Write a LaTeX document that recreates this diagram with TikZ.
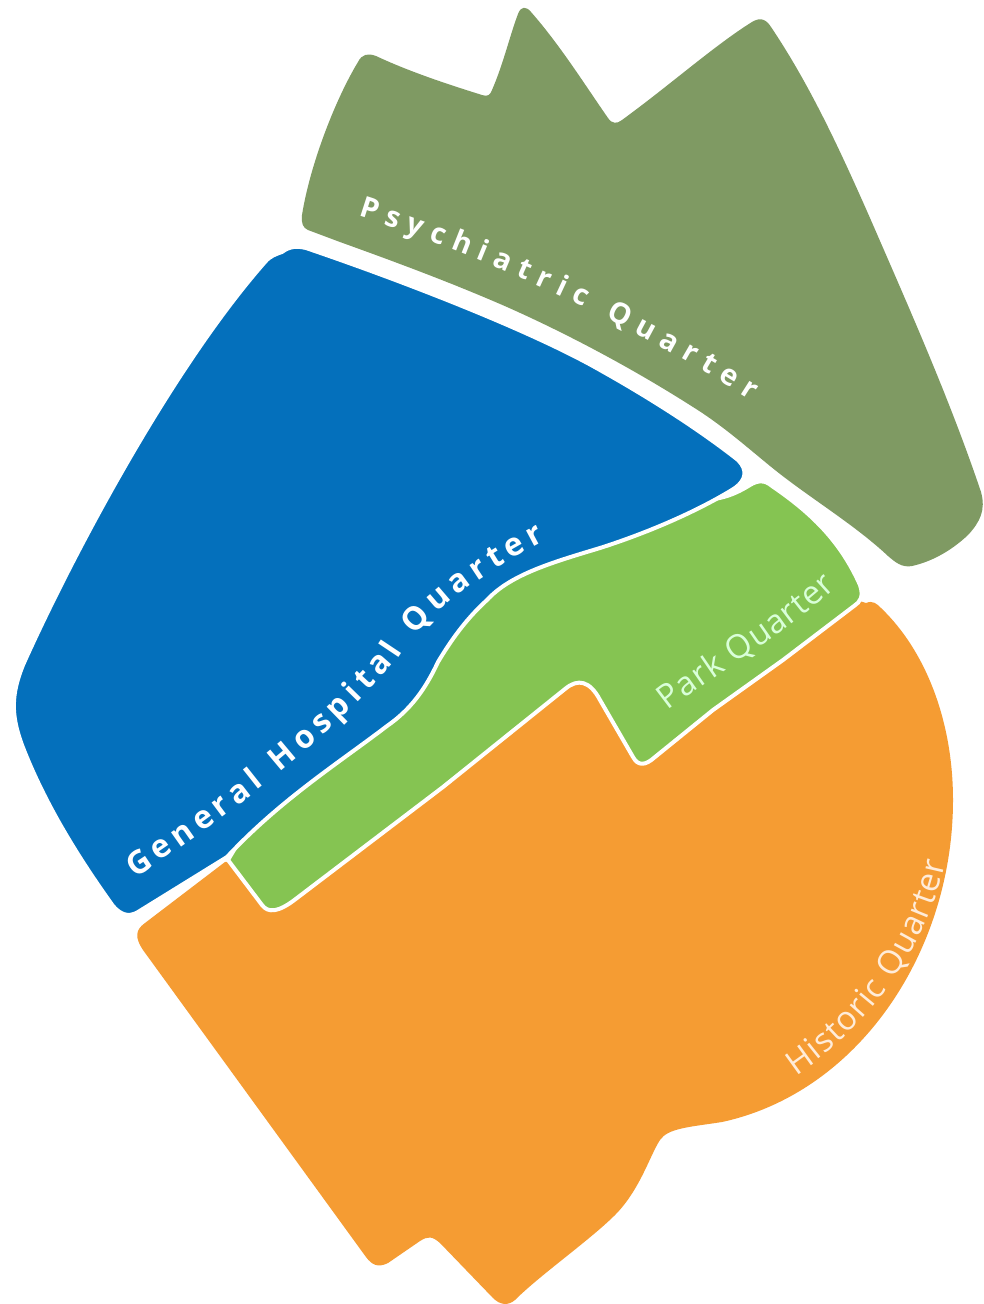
\documentclass[tikz,border=0pt]{standalone}
\usepackage{fontspec}
\usetikzlibrary{decorations.text}
\setmainfont{Open Sans}
\definecolor{olive}{HTML}{7F9A63}
\definecolor{hospblue}{HTML}{0470BC}
\definecolor{parkgreen}{HTML}{85C452}
\definecolor{histor}{HTML}{F59C33}
\newcommand{\psylab}{\bfseries\fontsize{29}{29}\selectfont}
\newcommand{\genlab}{\bfseries\fontsize{32}{32}\selectfont}
\newcommand{\thinlab}{\fontsize{33}{33}\selectfont}
\tikzset{
  quarter/.style={fill=#1,draw=white,line width=4pt,line join=round},
  curvelab/.style={decorate,decoration={text along path,text color=#1,text align={fit to path}}}
}
\begin{document}
\begin{tikzpicture}[x=1pt,y=-1pt]
\useasboundingbox (0,0) rectangle (984,1304);
\fill[white] (0,0) rectangle (984,1304);
% Psychiatric Quarter
\path[fill=olive] (302,215) .. controls (310,165) and (335,100) .. (358,62)
  .. controls (362,54) and (368,53) .. (376,56)
  .. controls (410,72) and (450,85) .. (482,95)
  .. controls (488,97) and (490,95) .. (492,90)
  .. controls (503,65) and (510,35) .. (518,14)
  .. controls (521,6) and (526,6) .. (531,12)
  .. controls (560,45) and (585,85) .. (608,118)
  .. controls (612,124) and (617,124) .. (622,120)
  .. controls (670,85) and (715,45) .. (752,22)
  .. controls (760,17) and (766,19) .. (771,27)
  .. controls (810,85) and (840,150) .. (870,218)
  .. controls (910,310) and (950,400) .. (981,492)
  .. controls (986,510) and (980,522) .. (968,535)
  .. controls (950,552) and (930,562) .. (912,566)
  .. controls (902,568) and (895,562) .. (888,556)
  .. controls (855,525) and (810,498) .. (775,470)
  .. controls (750,450) and (725,427) .. (693,407)
  .. controls (635,370) and (570,335) .. (507,307)
  .. controls (450,282) and (390,260) .. (340,242)
  -- (308,230) .. controls (303,228) and (301,223) .. (302,215) -- cycle;
% Historic Quarter
\path[fill=histor] (225,862) -- (280,860) -- (560,640) -- (650,700) -- (850,598) -- (866,603)
  .. controls (873,600) and (877,604) .. (881,608)
  .. controls (925,650) and (953,720) .. (953,800)
  .. controls (953,950) and (860,1092) .. (722,1122)
  .. controls (690,1127) and (668,1128) .. (660,1140)
  .. controls (650,1155) and (640,1190) .. (615,1215)
  .. controls (590,1240) and (540,1275) .. (515,1300)
  .. controls (508,1306) and (500,1305) .. (493,1298)
  -- (440,1243)
  .. controls (432,1236) and (428,1236) .. (420,1241)
  -- (388,1263)
  .. controls (378,1268) and (372,1265) .. (366,1257)
  -- (143,950)
  .. controls (135,938) and (135,930) .. (145,923) -- cycle;
% Park Quarter
\path[quarter=parkgreen] (700,500) .. controls (725,500) and (740,491) .. (750,485)
  .. controls (758,480) and (765,480) .. (772,486)
  .. controls (810,512) and (840,540) .. (860,585)
  .. controls (864,597) and (860,602) .. (854,606)
  -- (783,660) -- (713,710) -- (655,757)
  .. controls (645,766) and (638,766) .. (633,757)
  -- (600,700)
  .. controls (590,681) and (578,678) .. (565,689)
  -- (443,787) -- (297,898)
  .. controls (278,913) and (268,913) .. (262,905)
  -- (228,860) -- (300,740) -- (450,590) -- (600,520) -- cycle;
% General Hospital Quarter
\path[quarter=hospblue] (282,252)
  .. controls (290,246) and (297,246) .. (306,248)
  .. controls (400,280) and (530,330) .. (600,370)
  .. controls (650,398) and (700,430) .. (738,460)
  .. controls (748,470) and (746,480) .. (735,488)
  .. controls (700,510) and (650,532) .. (600,548)
  .. controls (550,563) and (510,575) .. (487,600)
  .. controls (465,620) and (450,642) .. (438,662)
  .. controls (425,690) and (410,710) .. (387,726)
  .. controls (340,762) and (280,800) .. (227,857)
  -- (138,912)
  .. controls (128,918) and (120,914) .. (113,906)
  .. controls (80,860) and (45,805) .. (22,745)
  .. controls (11,715) and (11,695) .. (23,665)
  .. controls (70,560) and (170,370) .. (265,262)
  .. controls (270,256) and (276,254) .. (282,252) -- cycle;
% Labels
\path[curvelab=white,decoration={text={|\psylab|Psychiatric Quarter}}] (358,216) .. controls (490,258) and (630,323) .. (750,400);
\path[curvelab=white,decoration={text={|\genlab|General Hospital Quarter}}] (135,878) .. controls (230,815) and (330,740) .. (400,655) .. controls (430,610) and (480,575) .. (545,541);
\path[curvelab=white!85!green,decoration={text={|\thinlab|Park Quarter}}] (668,711) .. controls (720,670) and (785,635) .. (836,587);
\path[curvelab=white!85!orange,decoration={text={|\thinlab|Historic Quarter}}] (796,1076) .. controls (865,1030) and (927,950) .. (945,862);
\end{tikzpicture}
\end{document}
